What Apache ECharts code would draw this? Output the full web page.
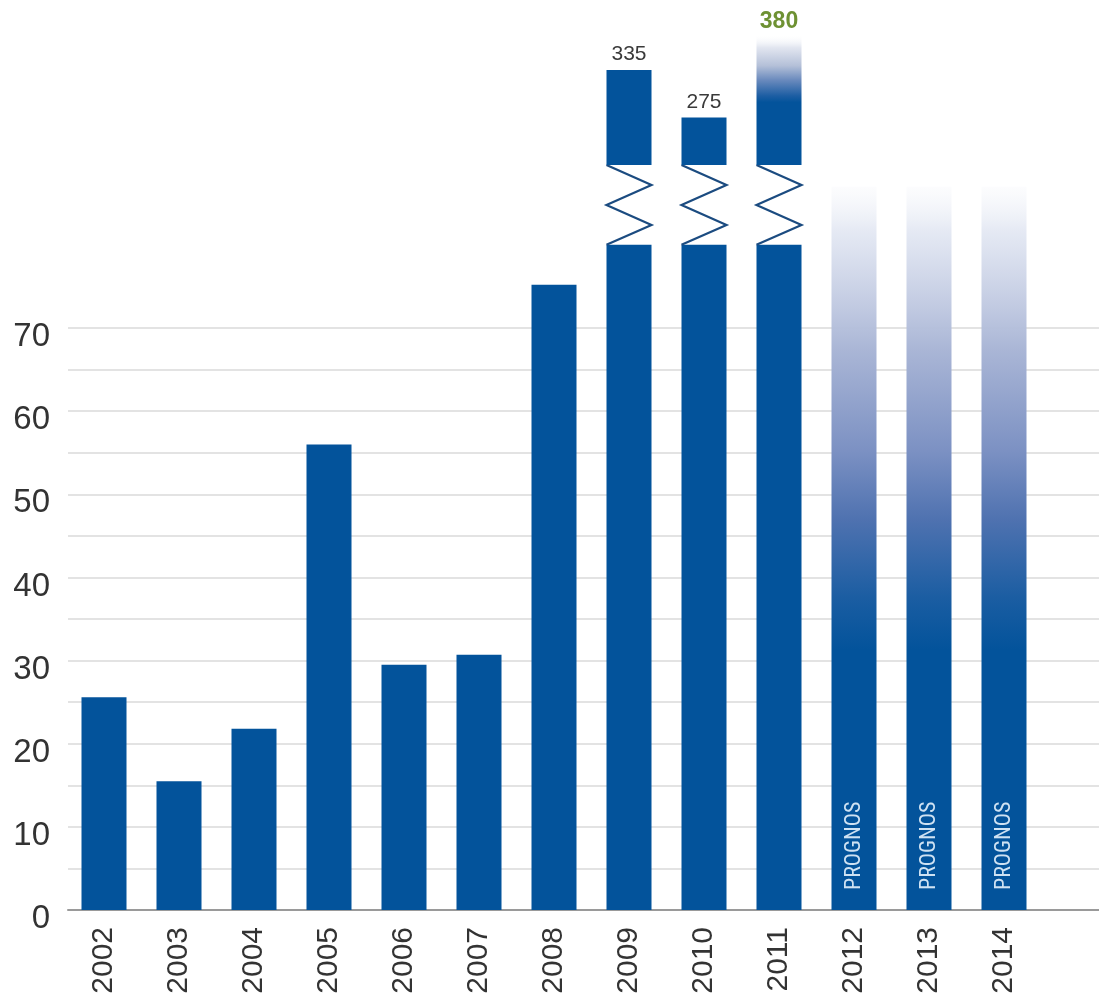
<!DOCTYPE html>
<html>
<head>
<meta charset="utf-8">
<script src="https://cdn.jsdelivr.net/npm/echarts@6/dist/echarts.min.js"></script>
<style>
  html, body { margin: 0; padding: 0; background: #ffffff; }
  #chart { width: 1099px; height: 1000px; }
</style>
</head>
<body>
<div id="chart"></div>
<script>
// ---------- data ----------
const years = ['2002', '2003', '2004', '2005', '2006', '2007', '2008', '2009', '2010', '2011', '2012', '2013', '2014'];
const actualValues = [25.6, 15.5, 21.8, 56, 29.5, 30.7, 75.2, 335, 275, 380];
const forecastYears = ['2012', '2013', '2014'];
const forecastHeights = [87, 87, 87];          // drawn height of the fading forecast bars (lower scale)
const forecastText = 'PROGNOS';
const breakLower = 80;                          // lower scale value where broken bars are cut
const breakUpper = 215;                         // upper scale value where broken bars resume
const upperMax = 335;
const highlightYear = '2011';
const yMax = 70;
const yStep = 5;
const yLabelStep = 10;

// ---------- layout / style ----------
const BLUE = '#03539b';
const FONT = "'Liberation Sans', Arial, sans-serif";
const PLOT_BOTTOM = 90;    // px from bottom (axis at y=910)
const LOWER_TOP = 328;     // px where 70 sits
const UPPER_TOP = 70;
const UPPER_BOTTOM_Y = 165;
const BAR_LEFT = 66.5, BAR_RIGHT = 57.5;

const lowerData = [];
const upperData = [];
actualValues.forEach((v, i) => {
  lowerData.push([i, v]);
  if (v > breakLower) upperData.push([i, v]);
});
const forecastData = forecastYears.map((y, k) => [years.indexOf(y), forecastHeights[k]]);

function barWidth(api) { return api.size([1, 0])[0] * 0.6; }

const option = {
  animation: false,
  backgroundColor: '#ffffff',
  grid: [
    { left: 68, right: 0, top: LOWER_TOP, bottom: PLOT_BOTTOM },
    { left: BAR_LEFT, right: BAR_RIGHT, top: LOWER_TOP, bottom: PLOT_BOTTOM },
    { left: BAR_LEFT, right: BAR_RIGHT, top: UPPER_TOP, bottom: 1000 - UPPER_BOTTOM_Y }
  ],
  xAxis: [
    { gridIndex: 0, type: 'value', min: 0, max: 1,
      axisLine: { show: true, lineStyle: { color: '#9a9a9a', width: 2 } },
      axisTick: { show: false }, axisLabel: { show: false }, splitLine: { show: false } },
    { gridIndex: 1, type: 'category', data: years,
      axisLine: { show: false }, axisTick: { show: false },
      axisLabel: { rotate: 90, interval: 0, margin: 17, fontSize: 30, color: '#333', fontFamily: FONT } },
    { gridIndex: 2, type: 'category', data: years, show: false }
  ],
  yAxis: [
    { gridIndex: 0, type: 'value', min: 0, max: yMax, interval: yStep,
      axisLine: { show: false }, axisTick: { show: false },
      axisLabel: { margin: 18, color: '#333',
        formatter: v => (v % yLabelStep === 0 ? '{a|' + v + '}' : ''),
        rich: { a: { fontSize: 33, color: '#333', fontFamily: FONT, padding: [18, 0, 0, 0] } } },
      splitLine: { show: true, lineStyle: { color: '#e3e3e3', width: 2 } } },
    { gridIndex: 1, type: 'value', min: 0, max: yMax, show: false, splitLine: { show: false } },
    { gridIndex: 2, type: 'value', min: breakUpper, max: upperMax, show: false, splitLine: { show: false } }
  ],
  series: [
    { // actual bars, lower part (and zigzag for broken bars)
      type: 'custom', xAxisIndex: 1, yAxisIndex: 1, clip: false,
      data: lowerData,
      renderItem: function (params, api) {
        const i = api.value(0), v = api.value(1);
        const w = barWidth(api);
        const base = api.coord([i, 0]);
        const cx = base[0];
        const children = [];
        const topVal = v > breakLower ? breakLower : v;
        const top = api.coord([i, topVal]);
        children.push({ type: 'rect', shape: { x: cx - w / 2, y: top[1], width: w, height: base[1] - top[1] },
          style: { fill: BLUE } });
        if (v > breakLower) {
          const y0 = top[1], y1 = UPPER_BOTTOM_Y;
          const pts = [];
          for (let k = 0; k <= 4; k++) {
            pts.push([k % 2 === 0 ? cx - w / 2 : cx + w / 2, y0 + (y1 - y0) * k / 4]);
          }
          children.push({ type: 'polyline', shape: { points: pts },
            style: { stroke: '#1b4b80', lineWidth: 2.2, fill: null } });
        }
        return { type: 'group', children: children };
      }
    },
    { // forecast bars
      type: 'custom', xAxisIndex: 1, yAxisIndex: 1, clip: false,
      data: forecastData,
      renderItem: function (params, api) {
        const i = api.value(0), h = api.value(1);
        const w = barWidth(api);
        const base = api.coord([i, 0]);
        const top = api.coord([i, h]);
        const cx = base[0];
        return { type: 'group', children: [
          { type: 'rect', shape: { x: cx - w / 2, y: top[1], width: w, height: base[1] - top[1] },
            style: { fill: new echarts.graphic.LinearGradient(0, 0, 0, 1, [
              { offset: 0, color: 'rgba(240,242,248,0.2)' },
              { offset: 0.06, color: 'rgba(225,230,242,0.85)' },
              { offset: 0.225, color: '#aab6d6' },
              { offset: 0.365, color: '#7c91c3' },
              { offset: 0.46, color: '#4f72b0' },
              { offset: 0.57, color: '#1a5da2' },
              { offset: 0.64, color: BLUE },
              { offset: 1, color: BLUE }
            ]) } },
          { type: 'text', x: cx, y: base[1] - 20, rotation: Math.PI / 2,
            style: { text: forecastText, fill: '#cfe2f3', fontSize: 22,
              fontFamily: "'Liberation Sans Narrow', 'Arial Narrow', 'Roboto Condensed', sans-serif",
              align: 'left', verticalAlign: 'middle' } }
        ] };
      }
    },
    { // actual bars, upper part
      type: 'custom', xAxisIndex: 2, yAxisIndex: 2, clip: false,
      data: upperData,
      renderItem: function (params, api) {
        const i = api.value(0), v = api.value(1);
        const w = barWidth(api);
        const base = api.coord([i, breakUpper]);
        const top = api.coord([i, v]);
        const cx = base[0];
        const hl = years[i] === highlightYear;
        const fill = hl ? new echarts.graphic.LinearGradient(0, 0, 0, 1, [
          { offset: 0, color: 'rgba(255,255,255,0)' },
          { offset: 0.1, color: '#e2e6f0' },
          { offset: 0.24, color: '#b4c0d8' },
          { offset: 0.35, color: '#6a8abd' },
          { offset: 0.47, color: '#1d5ea3' },
          { offset: 0.52, color: BLUE },
          { offset: 1, color: BLUE }
        ]) : BLUE;
        return { type: 'group', children: [
          { type: 'rect', shape: { x: cx - w / 2, y: top[1], width: w, height: base[1] - top[1] },
            style: { fill: fill } },
          { type: 'text', x: cx, y: top[1] - (hl ? 1 : 5),
            style: { text: String(v), fill: hl ? '#6e9133' : '#3a3a3a',
              fontSize: hl ? 23 : 21, fontWeight: hl ? 'bold' : 'normal', fontFamily: FONT,
              align: 'center', verticalAlign: 'bottom' } }
        ] };
      }
    }
  ]
};

const chart = echarts.init(document.getElementById('chart'), null, { renderer: 'canvas' });
chart.setOption(option);
</script>
</body>
</html>
